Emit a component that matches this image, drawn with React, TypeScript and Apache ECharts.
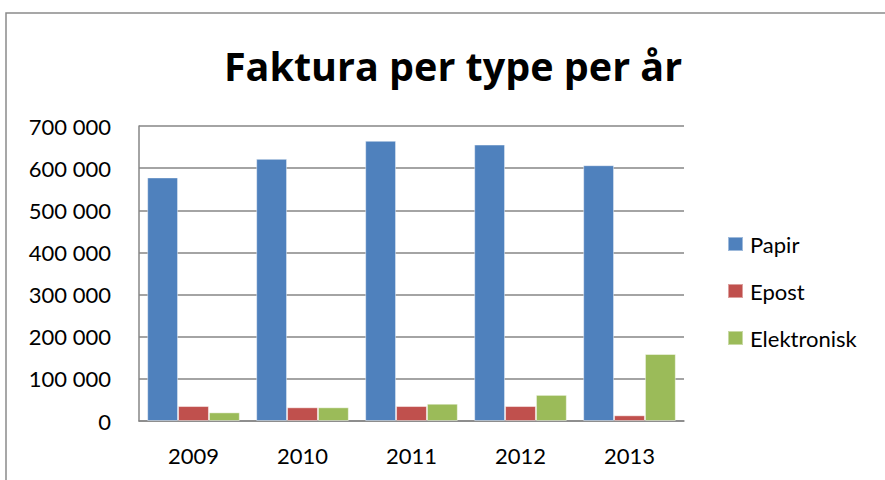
import React, { useEffect, useRef } from "react";
import * as echarts from "echarts";

const categories = ["2009", "2010", "2011", "2012", "2013"];
const papir = [578000, 622000, 665000, 656000, 607000];
const epost = [35500, 32500, 35500, 35500, 13500];
const elektronisk = [20500, 32500, 41000, 62000, 159000];
const seriesNames = ["Papir", "Epost", "Elektronisk"];
const colors = ["#4F81BD", "#C0504D", "#9BBB59"];

const FONT = "Lato, 'Open Sans', sans-serif";
const TITLE_FONT = "'Open Sans', Lato, sans-serif";

export default function App() {
  const ref = useRef<HTMLDivElement>(null);
  useEffect(() => {
    if (!ref.current) return;
    const chart = echarts.init(ref.current, undefined, { renderer: "svg" });
    const data = [papir, epost, elektronisk];
    chart.setOption({
      animation: false,
      backgroundColor: "#ffffff",
      title: {
        text: "Faktura per type per år",
        left: 448,
        top: 41,
        textAlign: "center",
        textStyle: { fontFamily: TITLE_FONT, fontWeight: "bold", fontSize: 39.5, color: "#000" },
      },
      graphic: [
        {
          type: "rect",
          shape: { x: 6, y: 13, width: 1000, height: 1000 },
          style: { fill: "none", stroke: "#8a8a8a", lineWidth: 1.5 },
          silent: true,
        },
      ],
      grid: { left: 139, right: 201, top: 126, bottom: 59, containLabel: false },
      legend: {
        orient: "vertical",
        left: 727,
        top: 232,
        padding: 0,
        itemWidth: 15,
        itemHeight: 14,
        itemGap: 23,
        icon: "rect",
        data: seriesNames,
        textStyle: {
          fontFamily: FONT,
          fontSize: 22,
          color: "#000",
          lineHeight: 24,
          padding: [0, 0, 0, 2],
        },
      },
      xAxis: {
        type: "category",
        data: categories,
        axisLine: { lineStyle: { color: "#868686", width: 1.5 } },
        axisTick: { show: false },
        axisLabel: { fontFamily: FONT, fontSize: 22, color: "#000", margin: 23 },
      },
      yAxis: {
        type: "value",
        min: 0,
        max: 700000,
        interval: 100000,
        axisLine: { show: true, lineStyle: { color: "#868686", width: 1.5 } },
        axisTick: { show: false },
        splitLine: { lineStyle: { color: "#868686", width: 1.5 } },
        axisLabel: {
          fontFamily: FONT,
          fontSize: 22,
          color: "#000",
          margin: 28,
          formatter: (v: number) => {
            if (v === 0) return "0";
            const k = Math.round(v / 1000);
            return k + " 000";
          },
        },
      },
      series: seriesNames.map((name, i) => ({
        name,
        type: "bar",
        data: data[i],
        barGap: "0%",
        barCategoryGap: "15%",
        itemStyle: { color: colors[i], borderColor: "rgba(255,255,255,0.45)", borderWidth: 1 },
      })),
    });
    return () => chart.dispose();
  }, []);
  return (
    <div
      ref={ref}
      style={{ position: "fixed", left: 0, top: 0, width: 885, height: 480 }}
    />
  );
}
